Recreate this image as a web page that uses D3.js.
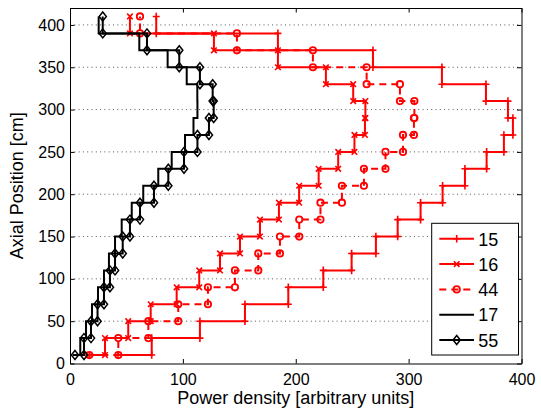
<!DOCTYPE html>
<html><head><meta charset="utf-8">
<script src="https://cdn.jsdelivr.net/npm/d3@7"></script>
<style>
body{margin:0;background:#fff}
text{font-family:"Liberation Sans", Arial, Helvetica, sans-serif;fill:#000}
</style>
</head><body>
<svg id="c" width="541" height="410"></svg>
<script>
// ---- data ----
const positions = [10,30,50,70,90,110,130,150,170,190,210,230,250,270,290,310,330,350,370,390,410];
const s15 = [42.5,72.4,115.1,155.0,193.4,224.4,249.5,271.0,290.3,310.6,330.1,349.9,369.1,384.4,392.4,388.0,368.5,329.5,268.4,184.2,76.4];
const s16 = [15.9,31.0,51.6,71.5,94.5,114.5,132.9,150.6,168.3,185.1,203.0,220.3,237.6,252.0,261.3,261.7,250.9,226.7,184.2,127.5,53.1];
const s44 = [17.1,42.8,69.4,95.9,122.2,146.1,166.8,186.0,203.1,221.9,240.9,260.4,279.5,295.0,304.7,305.1,292.3,262.8,215.2,147.9,62.0];
const s17 = [2.7,9.1,14.2,19.5,24.8,30.1,34.5,39.9,45.8,54.7,64.9,78.2,90.1,101.9,109.4,112.9,112.8,103.4,86.5,61.4,25.4];
const s55 = [4.4,12.4,18.6,24.4,30.1,35.4,39.9,46.7,53.1,62.0,74.4,87.1,101.0,112.9,123.1,127.3,126.4,115.1,96.8,68.2,29.0];
const seriesNames = ["15","16","44","17","55"];
const xTicks = [0,100,200,300,400];
const yTicks = [0,50,100,150,200,250,300,350,400];
const xLabel = "Power density [arbitrary units]";
const yLabel = "Axial Position [cm]";

const series = [
  {name:"15", vals:s15, color:"#ff0000", dash:null, marker:"plus"},
  {name:"16", vals:s16, color:"#ff0000", dash:null, marker:"cross"},
  {name:"44", vals:s44, color:"#ff0000", dash:"7,5", marker:"circle"},
  {name:"17", vals:s17, color:"#000000", dash:null, marker:null},
  {name:"55", vals:s55, color:"#000000", dash:null, marker:"diamond"}
];

const svg = d3.select("#c");
svg.append("rect").attr("width",541).attr("height",410).attr("fill","#fff");

const L = 70, R = 521.5, T = 8, B = 363.5;
const x = d3.scaleLinear().domain([0,400]).range([L,R]);
const y = d3.scaleLinear().domain([0,420]).range([B,T]);

// grid
svg.append("g").selectAll("line").data(yTicks.filter(d=>d>0)).join("line")
  .attr("x1",L).attr("x2",R).attr("y1",d=>y(d)).attr("y2",d=>y(d))
  .attr("stroke","#555").attr("stroke-width",1).attr("stroke-dasharray","1,3.3");

// stair vertices
function stairs(vals){
  const pts = [[vals[0], positions[0]]];
  for(let i=1;i<vals.length;i++){
    pts.push([vals[i], positions[i-1]]);
    pts.push([vals[i], positions[i]]);
  }
  return pts;
}
const line = d3.line().x(d=>x(d[0])).y(d=>y(d[1]));

function drawMarker(g, type, cx, cy, color){
  if(type==="plus"){
    g.append("path").attr("d",`M${cx-3.5},${cy}H${cx+3.5}M${cx},${cy-3.8}V${cy+3.8}`)
      .attr("stroke",color).attr("stroke-width",1.6).attr("fill","none");
  } else if(type==="cross"){
    const r=2.8;
    g.append("path").attr("d",`M${cx-r},${cy-r}L${cx+r},${cy+r}M${cx-r},${cy+r}L${cx+r},${cy-r}`)
      .attr("stroke",color).attr("stroke-width",1.6).attr("fill","none");
  } else if(type==="circle"){
    g.append("circle").attr("cx",cx).attr("cy",cy).attr("r",3.2)
      .attr("stroke",color).attr("stroke-width",1.8).attr("fill","none");
  } else if(type==="diamond"){
    g.append("path").attr("d",`M${cx},${cy-4.5}L${cx+3.6},${cy}L${cx},${cy+4.5}L${cx-3.6},${cy}Z`)
      .attr("stroke",color).attr("stroke-width",1.5).attr("fill","none");
  }
}

const plot = svg.append("g");
series.forEach(s=>{
  const g = plot.append("g");
  const pts = stairs(s.vals);
  g.append("path").attr("d",line(pts)).attr("fill","none")
    .attr("stroke",s.color).attr("stroke-width",2)
    .attr("stroke-dasharray",s.dash);
  if(s.marker) pts.forEach(p=>drawMarker(g,s.marker,x(p[0]),y(p[1]),s.color));
});

// axes
const fs = "16px";
const ax = svg.append("g").attr("transform",`translate(0,${B})`)
  .call(d3.axisBottom(x).tickValues(xTicks).tickSize(-4.5).tickSizeOuter(0).tickPadding(10.5));
const ay = svg.append("g").attr("transform",`translate(${L},0)`)
  .call(d3.axisLeft(y).tickValues(yTicks).tickSize(-4.5).tickSizeOuter(0).tickPadding(5));
const at = svg.append("g").attr("transform",`translate(0,${T})`)
  .call(d3.axisTop(x).tickValues(xTicks).tickSize(-4.5).tickSizeOuter(0).tickFormat(""));
const ar = svg.append("g").attr("transform",`translate(${R},0)`)
  .call(d3.axisRight(y).tickValues(yTicks).tickSize(-4.5).tickSizeOuter(0).tickFormat(""));
[ax,ay,at,ar].forEach(a=>{
  a.selectAll("text").style("font-size",fs).attr("fill","#000");
  a.selectAll("line").attr("stroke","#000");
  a.select(".domain").attr("stroke","#000");
});

svg.append("text").attr("x",(L+R)/2).attr("y",404).attr("text-anchor","middle")
  .style("font-size","18px").text(xLabel);
svg.append("text").attr("transform",`translate(22.5,${(T+B)/2}) rotate(-90)`).attr("text-anchor","middle")
  .style("font-size","18px").text(yLabel);

// legend
const lg = svg.append("g");
lg.append("rect").attr("x",431.7).attr("y",223.3).attr("width",86.8).attr("height",131.7)
  .attr("fill","#fff").attr("stroke","#000").attr("stroke-width",1);
series.forEach((s,i)=>{
  const base = 245.5 + i*25.3;
  const ly = base - 6.7;
  lg.append("line").attr("x1",439.3).attr("x2",474).attr("y1",ly).attr("y2",ly)
    .attr("stroke",s.color).attr("stroke-width",2).attr("stroke-dasharray",s.dash);
  if(s.marker) drawMarker(lg,s.marker,456.7,ly,s.color);
  lg.append("text").attr("x",478.3).attr("y",base).style("font-size","18px").text(s.name);
});
</script>
</body></html>
